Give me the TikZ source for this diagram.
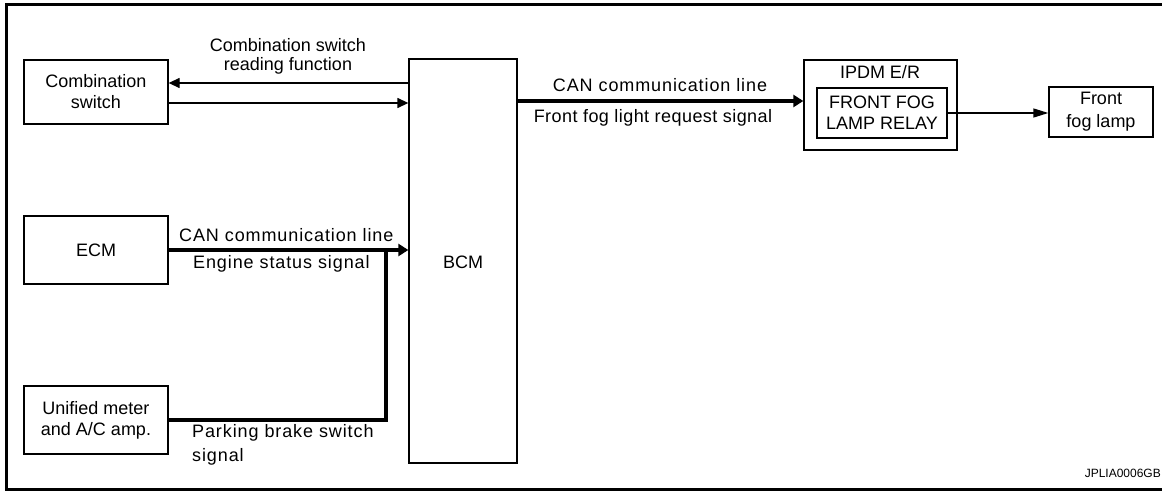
\documentclass[tikz,border=0pt]{standalone}
\usepackage{fontspec}
\setmainfont{Liberation Sans}
\usetikzlibrary{arrows.meta,calc}
\tikzset{
  blk/.style={draw=black, line width=1.3pt, inner sep=0pt, align=center,
    font=\fontsize{18}{21}\selectfont},
  thinline/.style={line width=1.3pt, -{Triangle[length=11pt,width=10pt]}},
  thickline/.style={line width=3.6pt, -{Triangle[length=10pt,width=12pt]}},
  thickplain/.style={line width=3.6pt},
  lbl/.style={inner sep=0pt, font=\fontsize{18}{21}\selectfont\addfontfeature{LetterSpace=5}},
  lblplain/.style={inner sep=0pt, align=center, font=\fontsize{18}{19}\selectfont},
}
\begin{document}
\begin{tikzpicture}[x=1pt,y=-1pt]
\useasboundingbox (0,0) rectangle (1162,492);
% frame (open on the right)
\draw[line width=3pt] (1162,5) -- (6,5) -- (6,489) -- (1162,489);

% blocks
\node[blk, minimum width=144pt, minimum height=64pt] (comb) at (96,92) {Combination\\switch};
\node[blk, minimum width=144pt, minimum height=68pt] (ecm) at (96,250) {ECM};
\node[blk, minimum width=144pt, minimum height=68pt] (uni) at (96,420) {Unified meter\\and A/C amp.};
\node[blk, minimum width=108pt, minimum height=404pt] (bcm) at (463,261) {};
\node[inner sep=0pt, font=\fontsize{18}{21}\selectfont] (bcmtxt) at (463,262) {BCM};
\node[blk, minimum width=153pt, minimum height=90pt] (ipdm) at (880.5,105) {};
\node[inner sep=0pt, font=\fontsize{18}{21}\selectfont] (ipdmtxt) at (880,72) {IPDM E/R};
\node[blk, minimum width=130pt, minimum height=50pt] (relay) at (882,113) {FRONT FOG\\LAMP RELAY};
\node[blk, minimum width=104pt, minimum height=50pt, font=\fontsize{18}{23}\selectfont] (fog) at (1101,112) {Front\\fog lamp};

% combination switch connectors
\coordinate (c1) at ([yshift=9pt]comb.east);
\coordinate (c2) at ([yshift=-11pt]comb.east);
\draw[thinline] (c1 -| bcm.west) -- (c1);
\draw[thinline] (c2) -- (c2 -| bcm.west);
\node[lblplain] (lcomb) at (288,56.5) {Combination switch\\reading function};

% ECM and unified meter
\coordinate (j) at (386,250);
\draw[thickline] (ecm.east) -- (ecm.east -| bcm.west);
\draw[thickplain, line join=miter] (uni.east) -- (uni.east -| j) -- (j);
\node[lbl, anchor=west] (lcan1) at (179,235) {CAN communication line};
\node[lbl, anchor=west] (leng) at (193,264) {Engine status signal};
\node[lbl, anchor=west, align=left, font=\fontsize{18}{24}\selectfont\addfontfeature{LetterSpace=5}] (lpark) at (192,445) {Parking brake switch\\signal};

% BCM to IPDM
\coordinate (c3) at ([yshift=4pt]ipdm.west);
\draw[thickline] (c3 -| bcm.east) -- (c3);
\node[lbl] (lcan2) at (660,85) {CAN communication line};
\node[lbl, font=\fontsize{18}{21}\selectfont\addfontfeature{LetterSpace=2.5}] (lfront) at (653,118) {Front fog light request signal};

% relay to lamp
\draw[line width=1.3pt, -{Triangle[length=15pt,width=9pt]}] (relay.east) -- (relay.east -| fog.west);

\node[inner sep=0pt, anchor=east, font=\fontsize{12}{14}\selectfont] (code) at (1161,473) {JPLIA0006GB};
\end{tikzpicture}
\end{document}
